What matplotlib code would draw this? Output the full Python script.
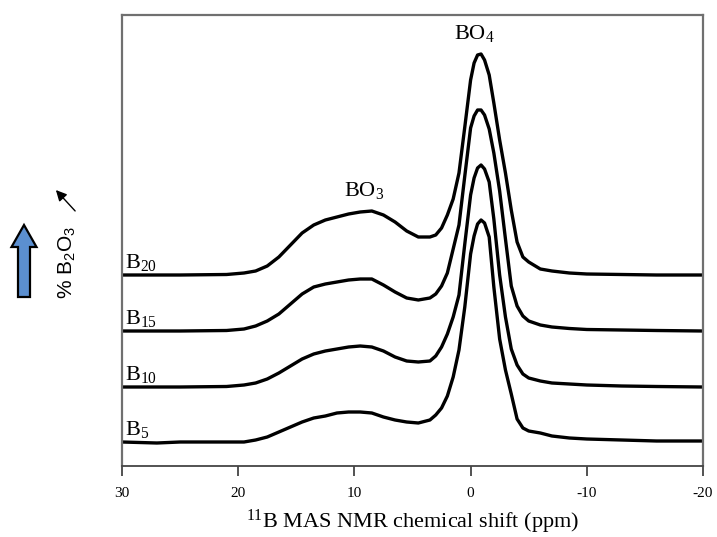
import matplotlib
matplotlib.use("Agg")
import matplotlib.pyplot as plt
from matplotlib.patches import FancyArrow

# ---------------- data ----------------
ppm = [30, 27, 25, 21, 19.5, 18.5, 17.5, 16.5, 15.5, 14.5, 13.5, 12.5, 11.5,
       10.5, 9.5, 8.5, 7.5, 6.5, 5.5, 4.5, 3.5, 3.0, 2.5, 2.0, 1.5, 1.0, 0.5,
       0.0, -0.3, -0.6, -0.9, -1.2, -1.6, -2.0, -2.5, -3.0, -3.5, -4.0, -4.5,
       -5.0, -6.0, -7.0, -8.5, -10, -13, -16, -20]

# intensities (arbitrary units, same scale for all)
B20 = [0, 0, 0, 0.5, 2, 4, 9, 18, 30, 42, 50, 55, 58, 61, 63, 64, 60, 53, 44,
       38, 38, 40, 47, 60, 76, 102, 148, 195, 212, 220, 221, 215, 200, 172,
       135, 102, 65, 33, 18, 13, 6, 4, 2, 1, 0.5, 0, 0]
B15 = [0, 0, 0, 0.5, 2, 5, 10, 17, 27, 37, 44, 47, 49, 51, 52, 52, 46, 39, 33,
       31, 33, 37, 45, 58, 82, 106, 155, 203, 215, 221, 221, 216, 202, 178,
       140, 92, 45, 25, 15, 10, 6, 4, 2.5, 1.5, 1, 0.5, 0]
B10 = [0, 0, 0, 0.5, 2, 4, 8, 14, 21, 28, 33, 36, 38, 40, 41, 40, 36, 30, 26,
       25, 26, 31, 40, 53, 70, 92, 143, 192, 209, 219, 222, 218, 205, 168,
       112, 70, 38, 22, 13, 9, 6, 4, 3, 2, 1, 0.5, 0]
B5 = [0, -1, 0, 0, 0, 2, 5, 10, 15, 20, 24, 26, 29, 30, 30, 29, 25, 22, 20,
      19, 22, 27, 34, 46, 65, 92, 135, 188, 206, 218, 222, 219, 205, 155,
      103, 72, 48, 23, 14, 11, 9, 6, 4, 3, 2, 1, 1]

series = [B5, B10, B15, B20]
series_labels = ["5", "10", "15", "20"]
xticks = [30, 20, 10, 0, -10, -20]
xlabel = "$\\mathregular{^{11}}$B MAS NMR chemical shift (ppm)"

# ---------------- figure ----------------
W, H = 717, 537
fig = plt.figure(figsize=(W / 100, H / 100), dpi=100)
serif = "Liberation Serif"

ax_l, ax_r, ax_t, ax_b = 122, 703, 15, 466
ax = fig.add_axes([ax_l / W, (H - ax_b) / H, (ax_r - ax_l) / W, (ax_b - ax_t) / H])

offsets = [24, 79, 135, 191]
for vals, off, lab in zip(series, offsets, series_labels):
    ax.plot(ppm, [v + off for v in vals], color="black", lw=2.4,
            solid_joinstyle="round", solid_capstyle="round")
    ax.annotate("B$\\mathregular{_{%s}}$" % lab, xy=(0, off),
                xycoords=("axes fraction", "data"),
                xytext=(3, 2), textcoords="offset pixels", family=serif,
                fontsize=16, ha="left", va="bottom")

ax.text(-0.3, 422, "BO$\\mathregular{_4}$", family=serif, fontsize=16,
        ha="center", va="bottom")
ax.text(9.2, 265, "BO$\\mathregular{_3}$", family=serif, fontsize=16,
        ha="center", va="bottom")

ax.set_xlim(30, -20)
ax.set_ylim(0, ax_b - ax_t)
ax.set_xticks(xticks)
ax.set_xticklabels([str(t) for t in xticks], family=serif, fontsize=11)
ax.set_yticks([])
ax.tick_params(axis="x", direction="out", length=7, width=1.3, color="#444444",
               pad=8)
for s in ["left", "top", "right"]:
    ax.spines[s].set_color("#707070")
    ax.spines[s].set_linewidth(1.6)
ax.spines["bottom"].set_color("#444444")
ax.spines["bottom"].set_linewidth(1.3)
ax.set_xlabel(xlabel, family=serif, fontsize=16, labelpad=6)

# ---------------- left annotation ----------------
ov = fig.add_axes([0, 0, 1, 1], facecolor="none")
ov.set_xlim(0, W)
ov.set_ylim(H, 0)
ov.axis("off")
ov.add_patch(FancyArrow(24, 297, 0, -72, width=12, head_width=25,
                        head_length=22, length_includes_head=True,
                        facecolor="#5b8fd0", edgecolor="black", lw=1.6))
ov.annotate("", xy=(54, 188), xytext=(77, 213),
            arrowprops=dict(arrowstyle="-|>", color="black", lw=1.0,
                            mutation_scale=16))
ov.text(67, 262, "% B$\\mathregular{_2}$O$\\mathregular{_3}$",
        family="Liberation Sans", fontsize=15, rotation=90,
        ha="center", va="center")

fig.savefig("out.png", dpi=100)
